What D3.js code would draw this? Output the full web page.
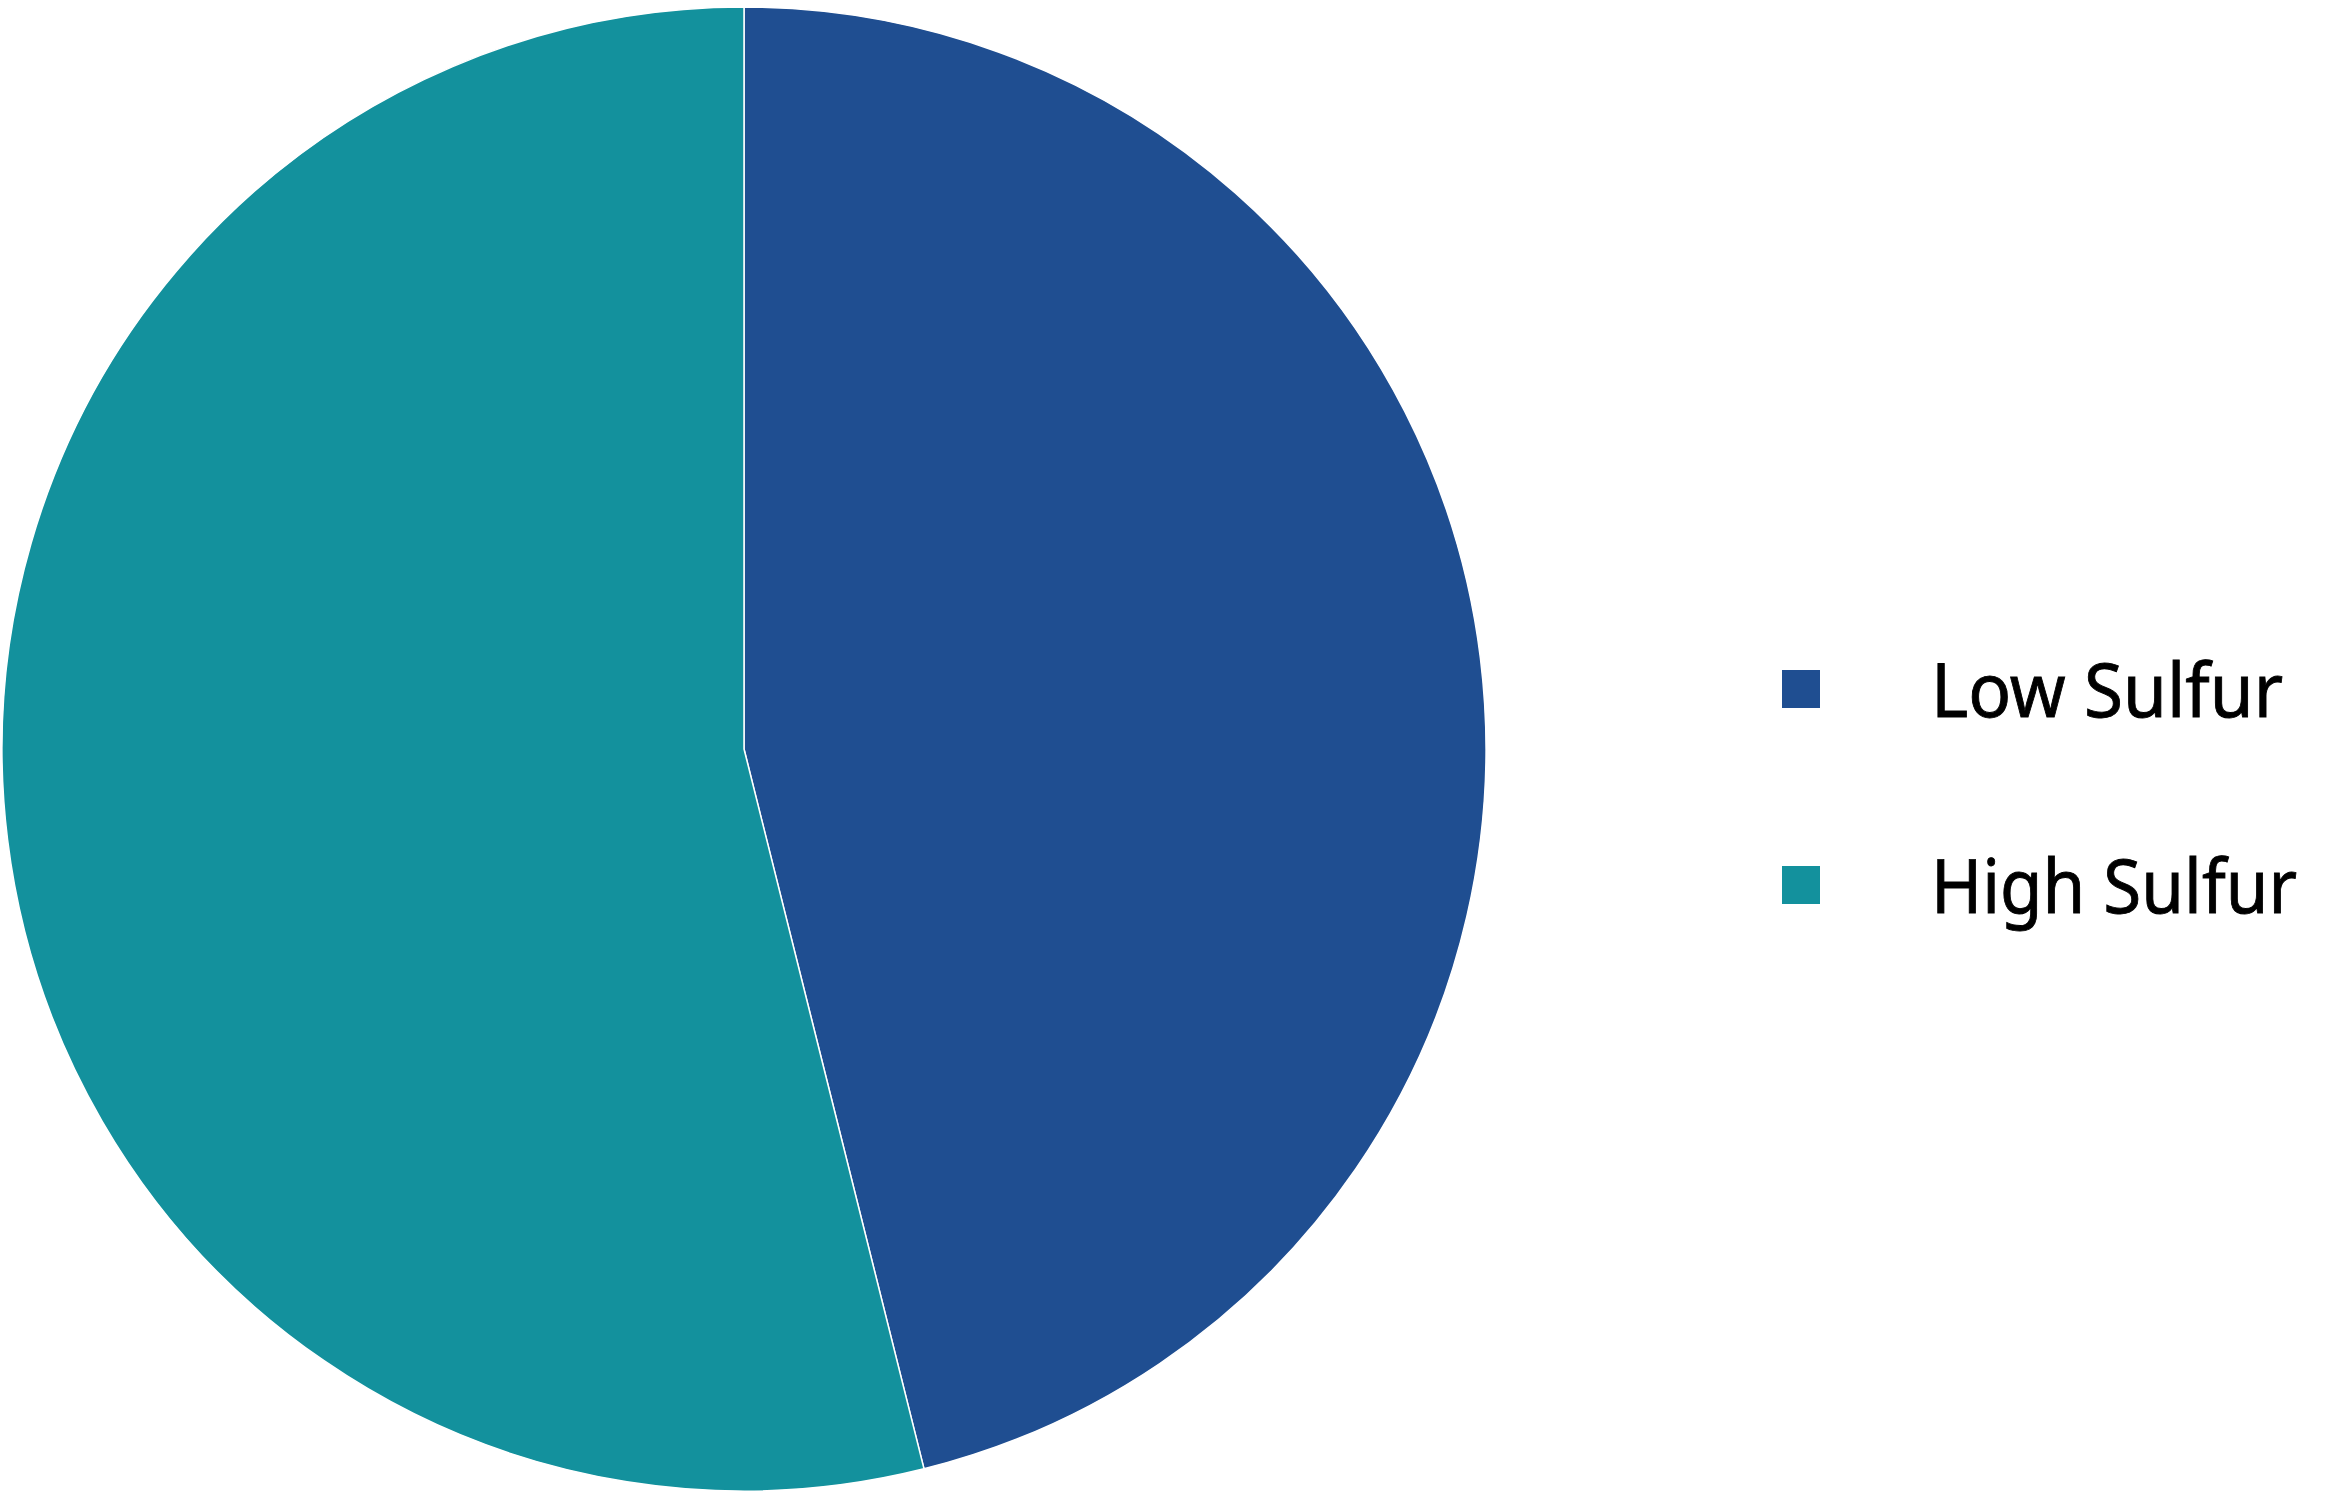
<!DOCTYPE html>
<html>
<head>
<meta charset="utf-8">
<script src="https://cdn.jsdelivr.net/npm/d3@7"></script>
<style>
  body { margin: 0; background: #fff; }
  svg { display: block; }
</style>
</head>
<body>
<script>
// slices, clockwise from 12 o'clock
let categories = ["Low Sulfur", "High Sulfur"];
let shares = [46.1, 53.9];
let colors = ["#1f4e91", "#13919d"];

let w = 2350;
let h = 1493;
let cx = 744, cy = 749, radius = 742;

let svg = d3.select("body")
    .append("svg")
    .attr("width", w)
    .attr("height", h);

let dataset = categories.map(function(c, i) {
    return { name: c, value: shares[i], color: colors[i] };
});

let pie = d3.pie()
    .sort(null)
    .value(function(d) { return d.value; });

let arc = d3.arc()
    .innerRadius(0)
    .outerRadius(radius);

svg.append("g")
    .attr("transform", "translate(" + cx + "," + cy + ")")
    .selectAll("path")
    .data(pie(dataset))
    .enter()
    .append("path")
    .attr("d", arc)
    .attr("fill", function(d) { return d.data.color; })
    .attr("stroke", "#fff")
    .attr("stroke-width", 1.5)
    .attr("stroke-linejoin", "round");

/* legend */
let legendY = d3.scalePoint()
    .domain(categories)
    .range([689, 885]);

let legend = svg.append("g")
    .selectAll("g")
    .data(dataset)
    .enter()
    .append("g")
    .attr("transform", function(d) { return "translate(0," + legendY(d.name) + ")"; });

legend.append("rect")
    .attr("x", 1782)
    .attr("y", -19)
    .attr("width", 38)
    .attr("height", 38)
    .attr("fill", function(d) { return d.color; });

let textWidths = { "Low Sulfur": 352, "High Sulfur": 366 };

legend.append("text")
    .attr("x", 1931)
    .attr("y", 28)
    .attr("font-family", "'Noto Sans', 'Open Sans', sans-serif")
    .attr("font-size", "75px")
    .attr("fill", "#000")
    .attr("stroke", "#000")
    .attr("stroke-width", 0.9)
    .attr("textLength", function(d) { return textWidths[d.name]; })
    .attr("lengthAdjust", "spacingAndGlyphs")
    .text(function(d) { return d.name; });
</script>
</body>
</html>
